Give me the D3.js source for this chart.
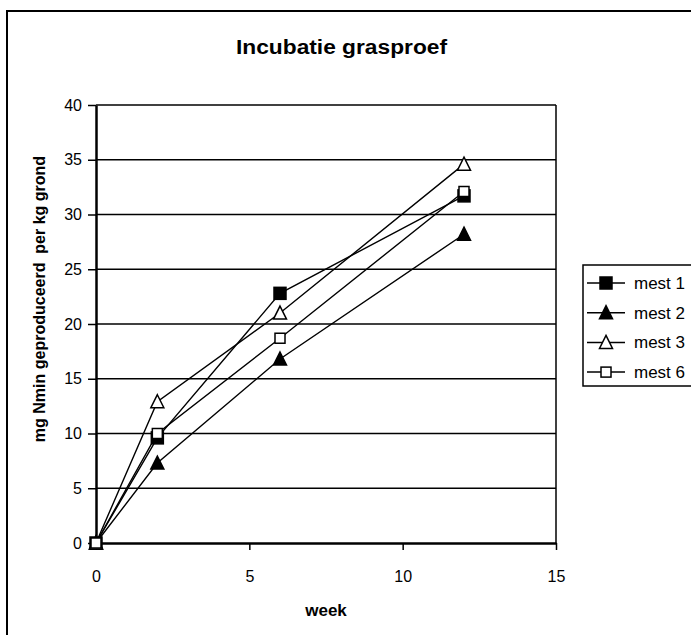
<!DOCTYPE html>
<html>
  <head>
    <meta charset="utf-8">
    <script src="https://d3js.org/d3.v7.min.js"></script>
    <style>
    body { margin: 0; background: #fff; }
    text { font-family: "Liberation Sans", Arial, sans-serif; fill: #000; }
    </style>
  </head>
  <body>
    <script>

    var weeks = [0, 2, 6, 12];
    var seriesNames = ["mest 1", "mest 2", "mest 3", "mest 6"];
    var mest1 = [0, 9.6, 22.8, 31.7];
    var mest2 = [0, 7.3, 16.8, 28.2];
    var mest3 = [0, 12.9, 21.0, 34.6];
    var mest6 = [0, 10.0, 18.7, 32.1];
    var markers = ["filledSquare", "filledTriangle", "openTriangle", "openSquare"];
    var xTicks = [0, 5, 10, 15];
    var yTicks = [0, 5, 10, 15, 20, 25, 30, 35, 40];

    var series = [mest1, mest2, mest3, mest6].map(function(vals, i) {
      return {
        name: seriesNames[i],
        marker: markers[i],
        points: vals.map(function(v, j) { return {x: weeks[j], y: v}; })
      };
    });

    var margin = {top: 105, left: 96};
    var width = 460, height = 438;

    var svg = d3.select("body").append("svg")
        .attr("width", 691)
        .attr("height", 635);

    // outer chart border
    svg.append("rect")
        .attr("x", 7).attr("y", 11)
        .attr("width", 700).attr("height", 640)
        .attr("fill", "none").attr("stroke", "#000").attr("stroke-width", 2);

    svg.append("text")
        .attr("x", 236).attr("y", 54)
        .attr("textLength", 211)
        .attr("lengthAdjust", "spacingAndGlyphs")
        .style("font-size", "20px").style("font-weight", "bold")
        .text("Incubatie grasproef");

    var g = svg.append("g")
        .attr("transform", "translate(" + margin.left + "," + margin.top + ")");

    var x = d3.scaleLinear().domain([0, 15]).range([0, width]);
    var y = d3.scaleLinear().domain([0, 40]).range([height, 0]);

    // gridlines
    g.selectAll(".grid")
        .data(yTicks.slice(1))
        .enter().append("line")
        .attr("x1", 0).attr("x2", width)
        .attr("y1", function(d) { return y(d); })
        .attr("y2", function(d) { return y(d); })
        .attr("stroke", "#000").attr("stroke-width", 1.5);

    // right border of plot area
    g.append("line")
        .attr("x1", width).attr("x2", width)
        .attr("y1", 0).attr("y2", height)
        .attr("stroke", "#000").attr("stroke-width", 1.5);

    var xAxis = g.append("g")
        .attr("transform", "translate(0," + height + ")")
        .call(d3.axisBottom(x).tickValues(xTicks).tickSize(7).tickPadding(21).tickSizeOuter(0));
    var yAxis = g.append("g")
        .call(d3.axisLeft(y).tickValues(yTicks).tickSize(8).tickPadding(6).tickSizeOuter(0));
    [xAxis, yAxis].forEach(function(a) {
      a.attr("font-size", null).attr("font-family", null);
      a.select(".domain").attr("stroke", "#000").attr("stroke-width", 2.5);
      a.selectAll(".tick line").attr("stroke", "#000").attr("stroke-width", 1.5);
      a.selectAll(".tick text").style("font-size", "16px").attr("fill", "#000");
    });

    svg.append("text")
        .attr("x", 326).attr("y", 616)
        .attr("text-anchor", "middle")
        .style("font-size", "17px").style("font-weight", "bold")
        .text("week");

    svg.append("text")
        .attr("transform", "translate(45,299) rotate(-90)")
        .attr("text-anchor", "middle")
        .style("font-size", "16px").style("font-weight", "bold")
        .style("white-space", "pre")
        .text("mg Nmin geproduceerd  per kg grond");

    function drawMarker(sel, type) {
      if (type === "filledSquare" || type === "openSquare") {
        var s = type === "filledSquare" ? 12 : 10;
        sel.append("rect")
            .attr("x", -s / 2).attr("y", -s / 2)
            .attr("width", s).attr("height", s)
            .attr("fill", type === "filledSquare" ? "#000" : "#fff")
            .attr("stroke", "#000").attr("stroke-width", 1.5);
      } else {
        sel.append("path")
            .attr("d", "M0,-7L6.5,6L-6.5,6Z")
            .attr("fill", type === "filledTriangle" ? "#000" : "#fff")
            .attr("stroke", "#000").attr("stroke-width", 1.5);
      }
    }

    var line = d3.line()
        .x(function(d) { return x(d.x); })
        .y(function(d) { return y(d.y); });

    series.forEach(function(s) {
      g.append("path")
          .datum(s.points)
          .attr("d", line)
          .attr("fill", "none")
          .attr("stroke", "#000")
          .attr("stroke-width", 1.4);
    });
    series.forEach(function(s) {
      g.selectAll(null)
          .data(s.points)
          .enter().append("g")
          .attr("transform", function(d) { return "translate(" + x(d.x) + "," + y(d.y) + ")"; })
          .each(function() { drawMarker(d3.select(this), s.marker); });
    });

    // legend
    var legend = svg.append("g");
    legend.append("rect")
        .attr("x", 583).attr("y", 265)
        .attr("width", 120).attr("height", 121)
        .attr("fill", "#fff").attr("stroke", "#000").attr("stroke-width", 1.5);

    var items = legend.selectAll(".item")
        .data(series)
        .enter().append("g")
        .attr("transform", function(d, i) { return "translate(0," + (283 + i * 29.7) + ")"; });
    items.append("line")
        .attr("x1", 587).attr("x2", 625)
        .attr("stroke", "#000").attr("stroke-width", 1.5);
    items.append("g")
        .attr("transform", "translate(606,0)")
        .each(function(d) { drawMarker(d3.select(this), d.marker); });
    items.append("text")
        .attr("x", 634).attr("y", 6)
        .style("font-size", "17px")
        .text(function(d) { return d.name; });

    </script>
  </body>
</html>
